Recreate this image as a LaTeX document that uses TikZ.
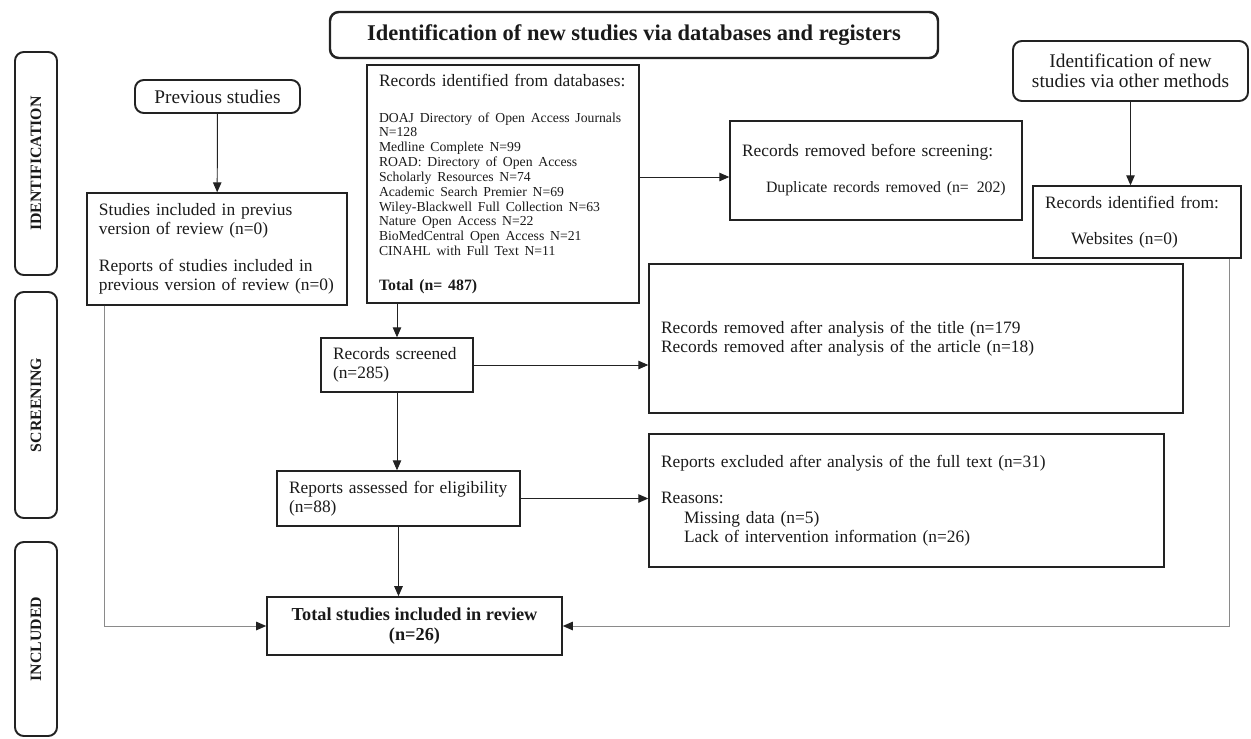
\documentclass[tikz,border=0pt]{standalone}
\usepackage{fontspec}
\setmainfont{Liberation Serif}
\usetikzlibrary{arrows.meta,positioning,calc}
\definecolor{prismaInk}{HTML}{1A1A1A}
\definecolor{prismaLine}{HTML}{222222}
\definecolor{prismaGrey}{HTML}{8A8A8A}

\begin{document}
\begin{tikzpicture}[
  x=0.2mm,y=-0.2mm,
  every node/.style={text=prismaInk},
  phasebox/.style={rectangle,rounded corners=5pt,draw=prismaLine,line width=1.1pt,rotate=90,minimum height=8.4mm,font=\fontsize{9}{11}\selectfont\bfseries},
  headbox/.style ={rectangle,rounded corners=5pt,draw=prismaLine,line width=1.1pt,align=center,font=\fontsize{11}{11.4}\selectfont},
  recbox/.style  ={rectangle,draw=prismaLine,line width=0.8pt,inner xsep=2.4mm,inner ysep=2pt,align=left,font=\fontsize{9.9}{11}\selectfont},
  sumbox/.style  ={rectangle,draw=prismaLine,line width=0.9pt,align=center,font=\fontsize{10.4}{11.5}\selectfont\bfseries},
  arrx/.style ={-{Triangle[length=2mm,width=1.7mm,color=prismaLine]},draw=prismaLine,line width=0.55pt},
  arrg/.style ={arrx,draw=prismaGrey}
]
\useasboundingbox (0,0) rectangle (1251,738);

% title and phase labels
\node[headbox,line width=1.4pt,minimum width=121.6mm,minimum height=9.2mm,
      font=\fontsize{12.8}{15}\selectfont\bfseries] (title) at (634,35) {Identification of new studies via databases and registers};
\node[phasebox,minimum width=44.6mm] (pid)  at (36,163.5) {IDENTIFICATION};
\node[phasebox,minimum width=45.2mm] (pscr) at (36,405)   {SCREENING};
\node[phasebox,minimum width=38.8mm] (pinc) at (36,639)   {INCLUDED};

% previous studies column
\node[headbox,minimum width=33mm,minimum height=6.6mm] (prev) at (217.5,96.5) {Previous studies};
\node[recbox,text width=47.2mm,minimum height=22.4mm] (prevrev) at (217,249)
  {Studies included in previus\\version of review (n=0)\\[10pt]Reports of studies included in\\previous version of review (n=0)};

% databases column
\node[recbox,text width=49.6mm,minimum height=47.6mm] (db) at (503,184) {%
  Records identified from databases:\par
  \vspace{12pt}%
  {\fontsize{7.8}{8.45}\selectfont DOAJ Directory of Open Access Journals\\N=128\\Medline Complete N=99\\ROAD: Directory of Open Access\\Scholarly Resources N=74\\Academic Search Premier N=69\\Wiley-Blackwell Full Collection N=63\\Nature Open Access N=22\\BioMedCentral Open Access N=21\\CINAHL with Full Text N=11\par}
  \vspace{9pt}%
  {\fontsize{9}{11}\selectfont\bfseries Total (n= 487)\par}};
\node[recbox,text width=53.6mm,minimum height=19.8mm] (rem1) at (876,170.5)
  {Records removed before screening:\\[9.5pt]\hspace*{4.8mm}{\fontsize{9}{11}\selectfont Duplicate records removed (n=\enspace202)}};
\node[recbox,text width=25.6mm,minimum height=10.8mm] (scr) at (397,365) {Records screened\\(n=285)};
\node[recbox,text width=102mm,minimum height=29.8mm] (rem2) at (916,338.5)
  {Records removed after analysis of the title (n=179\\Records removed after analysis of the article (n=18)};
\node[recbox,text width=43.8mm,minimum height=11mm] (elig) at (398.5,498.5) {Reports assessed for eligibility\\(n=88)};
\node[recbox,text width=98.2mm,minimum height=26.6mm] (excl) at (906.5,500.5)
  {Reports excluded after analysis of the full text (n=31)\\[10pt]Reasons:\\\hspace*{4.6mm}Missing data (n=5)\\\hspace*{4.6mm}Lack of intervention information (n=26)};
\node[sumbox,minimum width=59mm,minimum height=11.6mm] (total) at (414.5,626) {Total studies included in review\\(n=26)};

% other methods column
\node[headbox,minimum width=47mm,minimum height=12mm] (other) at (1130.5,71) {Identification of new\\studies via other methods};
\node[recbox,text width=36.8mm,minimum height=14.4mm] (web) at (1137,222)
  {Records identified from:\\[9.5pt]\hspace*{5.2mm}Websites (n=0)};

% arrows
\draw[arrx] (prev) -- (prevrev);
\draw[arrx] (scr.north |- db.south) -- (scr.north);
\draw[arrx] ($(db.east |- rem1.west)+(0,6.5)$) -- ($(rem1.west)+(0,6.5)$);
\draw[arrx] (other.south) -- (other.south |- web.north);
\draw[arrx] (scr.east) -- (scr.east -| rem2.west);
\draw[arrx] (scr.south) -- (scr.south |- elig.north);
\draw[arrx] (elig.east) -- (elig.east -| excl.west);
\draw[arrx] (elig.south) -- (elig.south |- total.north);
\draw[arrg] ($(prevrev.south west)+(18,0)$) |- (total.west);
\draw[arrg] ($(web.south east)+(-12,0)$) |- (total.east);
\end{tikzpicture}
\end{document}
